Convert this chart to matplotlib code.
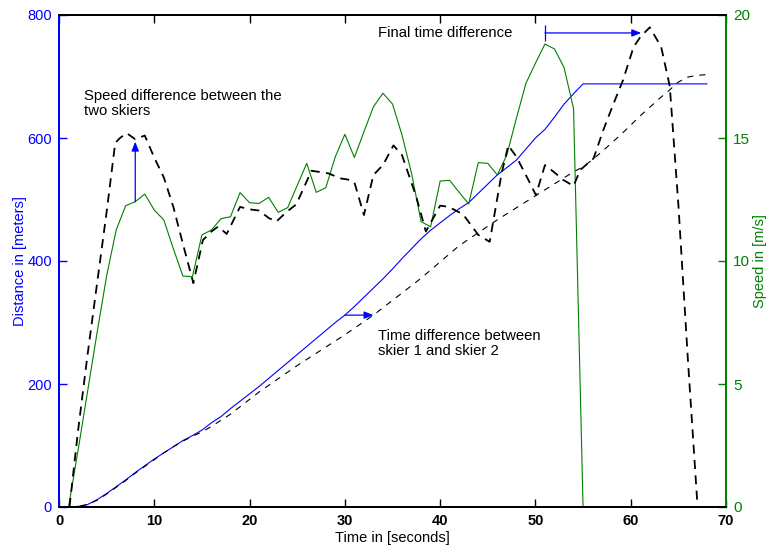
import numpy as np
import matplotlib
matplotlib.use("Agg")
import matplotlib.pyplot as plt

plt.rcParams['font.family'] = ['Liberation Sans', 'DejaVu Sans']

# ---- data ----
# skier 1 speed (green, m/s) at integer seconds
t_speed1 = list(range(1, 69))
v_speed1 = [0, 2.3, 4.7, 7.1, 9.4, 11.26, 12.25, 12.41, 12.72, 12.07,
            11.67, 10.5, 9.39, 9.36, 11.06, 11.26, 11.72, 11.8, 12.78, 12.37,
            12.34, 12.59, 11.98, 12.17, 13.07, 13.97, 12.79, 12.98, 14.24, 15.15,
            14.21, 15.25, 16.27, 16.82, 16.38, 15.12, 13.56, 11.6, 11.39, 13.25,
            13.28, 12.79, 12.32, 14.0, 13.97, 13.5, 14.31, 15.8, 17.22, 18.04,
            18.82, 18.62, 17.87, 16.2, 0, 0, 0, 0, 0, 0,
            0, 0, 0, 0, 0, 0, 0, 0]

# skier 2 speed (black dashed, m/s)
t_speed2 = [1.1, 2.0, 3.0, 4.0, 5.0, 5.9, 6.4, 7.1, 8.0, 9.0,
            10.0, 11.0, 12.0, 13.0, 14.1, 15.1, 16.0, 16.7, 17.6, 19.0,
            20.0, 21.0, 22.0, 22.8, 23.9, 24.9, 26.5, 28.3, 29.5, 30.5,
            31.0, 32.0, 33.0, 34.0, 35.1, 36.0, 37.5, 38.5, 40.0, 40.9,
            42.4, 44.0, 45.2, 46.45, 47.15, 48.0, 49.25, 50.05, 51.0, 51.9,
            52.9, 54.0, 54.7, 56.1, 57.1, 58.2, 59.2, 60.3, 61.0, 62.0,
            63.2, 64.1, 65.0, 66.0, 67.0]
v_speed2 = [0, 3.1, 6.2, 9.1, 12.0, 14.8, 15.0, 15.2, 14.95, 15.1,
            14.2, 13.4, 12.2, 10.7, 9.1, 10.85, 11.2, 11.4, 11.1, 12.2,
            12.1, 12.05, 11.75, 11.6, 12.0, 12.3, 13.67, 13.56, 13.36, 13.3,
            13.2, 11.87, 13.5, 13.9, 14.7, 14.3, 12.6, 11.2, 12.25, 12.2,
            11.9, 11.06, 10.78, 13.56, 14.7, 14.24, 13.3, 12.68, 13.9, 13.63,
            13.3, 13.05, 13.7, 14.17, 15.3, 16.4, 17.36, 18.7, 19.1, 19.5,
            18.7, 17.1, 12.3, 6.0, 0.1]

# skier 1 distance (blue, m)
t_dist1 = list(range(1, 56)) + [68]
d_dist1 = [0, 1, 4, 12, 22, 33, 44, 56, 67, 78,
           88, 98, 108, 116, 125, 137, 147, 160, 172, 184,
           196, 209, 222, 235, 248, 261, 274, 287, 300, 312,
           326, 341, 356, 371, 387, 404, 420, 436, 450, 462,
           474, 485, 495, 510, 525, 540, 552, 564, 582, 600,
           614, 634, 655, 672, 688, 688]

# skier 2 distance (black dashed, m)
t_dist2 = [1, 2, 3, 4, 5, 6, 7, 8, 9, 10,
           11, 12, 13, 14, 15, 16, 17, 18, 19, 20,
           21, 25, 30, 33, 38, 42, 46, 50, 54, 55,
           56, 57, 58, 59, 60, 61, 62, 63, 64, 65,
           66, 67, 68]
d_dist2 = [0, 1, 4, 11, 21, 32, 43, 55, 66, 77,
           88, 98, 107, 115, 122, 131, 141, 151, 163, 175,
           187, 230, 280, 312, 372, 425, 467, 506, 545, 553,
           565, 578, 592, 606, 621, 636, 650, 664, 677, 691,
           699, 702, 703]

x_ticks = [0, 10, 20, 30, 40, 50, 60, 70]
left_ticks = [0, 200, 400, 600, 800]
right_ticks = [0, 5, 10, 15, 20]

BLUE = '#0000ff'
GREEN = '#008000'

fig = plt.figure(figsize=(7.69, 5.46), dpi=100)
ax = fig.add_axes([59/769, 1-507/546, 667/769, 492/546])
ax2 = ax.twinx()

# distance curves (left axis)
ax.plot(t_dist1, d_dist1, color=BLUE, lw=0.8)
ax.plot(t_dist2, d_dist2, color='black', lw=0.8, dashes=(5.5, 5.5))
# speed curves (right axis)
ax2.plot(t_speed1, v_speed1, color=GREEN, lw=0.8)
ax2.plot(t_speed2, v_speed2, color='black', lw=1.3, dashes=(5, 3.5))

ax.set_xlim(0, 70)
ax.set_ylim(0, 800)
ax2.set_ylim(0, 20)
ax.set_xticks(x_ticks)
ax.set_yticks(left_ticks)
ax2.set_yticks(right_ticks)

ax.tick_params(axis='x', direction='in', length=6, width=1, top=True,
               labelsize=10.5, pad=5, colors='black')
for lab in ax.get_xticklabels():
    lab.set_fontweight('bold')
ax.tick_params(axis='y', direction='in', length=6, width=1, colors=BLUE,
               labelsize=10.5, pad=5)
ax2.tick_params(axis='y', direction='in', length=6, width=1, colors=GREEN,
                labelsize=11, pad=5)

for a in (ax, ax2):
    a.spines['bottom'].set_color('black')
    a.spines['top'].set_color('black')
    a.spines['left'].set_color(BLUE)
    a.spines['right'].set_color(GREEN)
    for s in a.spines.values():
        s.set_linewidth(1.4)

ax.set_xlabel('Time in [seconds]', fontsize=10.5, labelpad=2)
ax.set_ylabel('Distance in [meters]', fontsize=10.5, color=BLUE, labelpad=0.5)
ax2.set_ylabel('Speed in [m/s]', fontsize=10.5, color=GREEN, labelpad=2)

# annotations
FS = 10.7
arrow_kw = dict(arrowstyle='-|>,head_length=0.55,head_width=0.22',
                color=BLUE, lw=0.9, shrinkA=0, shrinkB=0)
t_sd = 8
ax2.annotate('', xy=(t_sd, np.interp(t_sd, t_speed2, v_speed2) - 0.1),
             xytext=(t_sd, np.interp(t_sd, t_speed1, v_speed1)),
             arrowprops=arrow_kw)
ax2.text(2.62, 15.93, 'Speed difference between the\ntwo skiers',
         fontsize=FS, va='baseline', ha='left', linespacing=1.07)

d_td = 312
t_a = np.interp(d_td, d_dist1, t_dist1)
t_b = np.interp(d_td, d_dist2, t_dist2)
ax.annotate('', xy=(t_b, d_td), xytext=(t_a, d_td), arrowprops=arrow_kw)
ax.text(33.5, 247.2, 'Time difference between\nskier 1 and skier 2',
        fontsize=FS, va='baseline', ha='left', linespacing=1.07)

v_fd = 19.27
t_start = t_speed1[int(np.argmax(v_speed1))]
t_end = 61.1
ax2.annotate('', xy=(t_end, v_fd), xytext=(t_start, v_fd), arrowprops=arrow_kw)
ax2.plot([t_start], [v_fd], marker='|', color=BLUE, markersize=11, mew=0.9)
ax2.text(33.47, 19.1, 'Final time difference',
         fontsize=FS, va='baseline', ha='left')

fig.savefig('out.png', dpi=100)
